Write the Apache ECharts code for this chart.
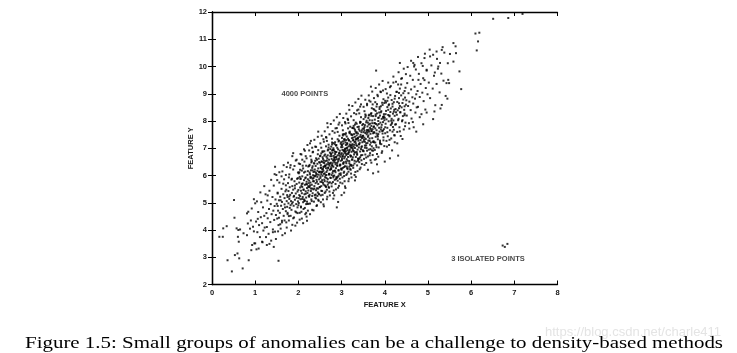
<!DOCTYPE html>
<html>
<head>
<meta charset="utf-8">
<script src="https://cdn.jsdelivr.net/npm/echarts@6/dist/echarts.min.js"></script>
<style>
  html, body { margin: 0; padding: 0; background: #fff; }
  #main { width: 737px; height: 353px; }
</style>
</head>
<body>
<div id="main"></div>
<script>
// points (feature x, feature y)
var clusterPoints = [
  [0.17,3.75],[0.25,3.75],[0.26,4.06],[0.34,4.14],[0.36,2.89],[0.46,2.48],[0.52,4.45],[0.51,5.10],[0.53,3.08],[0.59,3.14],
  [0.63,2.96],[0.71,2.59],[0.57,4.06],[0.61,4.00],[0.65,4.02],[0.60,3.75],[0.62,3.57],[0.73,3.88],[0.81,3.81],[0.85,2.89],
  [0.84,4.67],[0.92,4.79],[0.81,4.61],[0.83,4.24],[0.93,3.45],[0.91,3.26],[0.98,3.51],[0.88,4.05],[0.95,4.12],[0.97,3.95],
  [0.90,4.35],[1.03,3.29],[1.00,3.51],[1.16,3.57],[1.27,3.45],[1.43,3.38],[1.54,2.87],[1.00,4.98],[0.97,5.13],
  [1.02,4.31],[1.05,3.92],[1.07,4.66],[1.09,4.18],[1.11,3.74],[1.13,4.47],[1.14,5.02],[1.16,4.25],[1.18,4.83],[1.19,3.98],
  [1.21,4.52],[1.22,4.09],[1.24,5.31],[1.06,4.41],
  [1.26,4.62],[1.27,4.11],[1.28,5.08],[1.29,4.43],[1.31,3.86],[1.32,4.77],[1.33,5.44],[1.35,4.29],[1.36,4.95],[1.37,3.61],
  [1.38,4.58],[1.40,5.21],[1.41,4.02],[1.42,4.71],[1.43,5.63],[1.44,4.37],[1.45,4.88],[1.46,3.94],[1.47,5.12],[1.48,4.55],[1.49,6.02],
  [1.50,4.96],[1.51,4.42],[1.52,5.37],[1.53,4.71],[1.54,4.18],[1.55,5.09],[1.56,5.74],[1.57,4.63],[1.58,5.22],[1.59,4.05],
  [1.60,4.89],[1.61,5.51],[1.62,4.34],[1.62,5.03],[1.63,6.15],[1.64,4.77],[1.65,5.31],[1.66,4.52],[1.67,5.86],[1.68,4.94],
  [1.68,5.17],[1.69,3.88],[1.70,5.42],[1.71,4.69],[1.71,5.64],[1.72,4.28],[1.73,5.06],[1.73,6.31],[1.74,4.85],[1.74,5.28],[1.52,4.88],
  [1.46,6.32],[1.88,6.82],[2.27,7.18],[2.46,7.61],
  [1.75,5.21],[1.75,4.63],[1.76,5.72],[1.77,4.98],[1.77,5.43],[1.78,4.35],[1.79,5.14],[1.79,6.04],[1.80,4.81],[1.80,5.57],
  [1.81,5.29],[1.82,4.52],[1.82,6.38],[1.83,5.06],[1.84,5.85],[1.84,4.74],[1.85,5.36],[1.86,4.19],[1.86,5.61],[1.87,5.02],
  [1.88,5.48],[1.88,6.22],[1.89,4.89],[1.90,5.25],[1.90,4.46],[1.91,5.79],[1.92,5.11],[1.92,5.53],[1.93,4.68],[1.94,6.55],
  [1.94,5.34],[1.95,4.95],[1.96,5.69],[1.96,5.18],[1.97,4.27],[1.97,5.88],[1.98,5.41],[1.98,4.83],[1.99,6.11],[1.99,5.05],
  [1.78,5.93],[1.85,4.97],
  [2.00,5.47],[2.00,4.91],[2.01,6.08],[2.02,5.28],[2.02,5.74],[2.03,4.63],[2.04,5.56],[2.04,6.42],[2.05,5.13],[2.05,5.89],
  [2.06,4.86],[2.07,5.62],[2.07,6.77],[2.08,5.35],[2.08,4.42],[2.09,5.97],[2.10,5.21],[2.10,5.71],[2.11,5.02],[2.11,6.26],
  [2.12,5.49],[2.12,4.77],[2.13,5.83],[2.14,5.31],[2.14,6.51],[2.15,5.08],[2.15,5.66],[2.16,4.58],[2.16,6.14],[2.17,5.42],
  [2.17,5.93],[2.18,5.19],[2.18,4.95],[2.19,5.77],[2.19,6.63],[2.20,5.54],[2.20,5.04],[2.21,6.02],[2.21,5.36],[2.22,4.71],
  [2.22,5.86],[2.23,5.61],[2.23,6.33],[2.24,5.25],[2.24,5.72],[2.01,5.17],[2.06,5.44],[2.09,5.58],[2.13,5.12],[2.15,6.91],
  [2.18,5.68],[2.20,4.34],[2.23,5.45],[2.03,5.95],[2.08,6.18],
  [2.25,5.81],[2.25,5.22],[2.26,6.39],[2.26,5.58],[2.27,6.05],[2.27,4.97],[2.28,5.74],[2.28,6.71],[2.29,5.43],[2.29,6.19],
  [2.30,5.12],[2.30,5.93],[2.31,6.52],[2.31,5.66],[2.32,4.74],[2.32,6.28],[2.33,5.88],[2.33,5.35],[2.34,6.87],[2.34,6.01],
  [2.35,5.49],[2.35,6.13],[2.36,5.04],[2.36,5.79],[2.37,6.44],[2.37,5.61],[2.38,6.22],[2.38,5.28],[2.39,5.97],[2.39,7.06],
  [2.40,5.72],[2.40,6.35],[2.41,5.16],[2.41,6.09],[2.42,5.84],[2.42,4.88],[2.43,6.58],[2.43,5.53],[2.44,6.17],[2.44,5.95],
  [2.45,5.38],[2.45,6.78],[2.46,5.69],[2.46,6.26],[2.47,5.07],[2.47,6.03],[2.48,5.86],[2.48,6.49],[2.49,5.57],[2.49,6.12],
  [2.26,6.11],[2.28,5.96],[2.30,6.48],[2.32,5.52],[2.35,5.91],[2.37,5.98],[2.39,6.54],[2.41,5.46],[2.43,6.04],[2.44,5.25],
  [2.46,6.93],[2.48,5.31],[2.27,5.64],[2.33,6.34],[2.40,6.01],[2.47,6.62],
  [2.50,6.14],[2.50,5.58],[2.51,6.73],[2.51,5.91],[2.52,6.38],[2.52,5.27],[2.53,6.05],[2.53,7.02],[2.54,5.76],[2.54,6.51],
  [2.55,5.43],[2.55,6.22],[2.56,6.86],[2.56,5.99],[2.57,5.12],[2.57,6.61],[2.58,6.17],[2.58,5.67],[2.59,7.24],[2.59,6.33],
  [2.60,5.85],[2.60,6.46],[2.61,5.36],[2.61,6.08],[2.62,6.77],[2.62,5.94],[2.63,6.53],[2.63,5.61],[2.64,6.27],[2.64,7.41],
  [2.65,6.02],[2.65,6.69],[2.66,5.48],[2.66,6.41],[2.67,6.19],[2.67,5.22],[2.68,6.92],[2.68,5.87],[2.69,6.48],[2.69,6.29],
  [2.70,5.73],[2.70,7.13],[2.71,6.03],[2.71,6.58],[2.72,5.41],[2.72,6.36],[2.73,6.21],[2.73,6.84],[2.74,5.92],[2.74,6.44],
  [2.50,6.47],[2.52,6.28],[2.53,6.81],[2.55,5.83],[2.57,6.24],[2.58,6.31],[2.60,6.89],[2.61,5.79],[2.63,6.36],[2.64,5.58],
  [2.66,7.27],[2.68,5.66],[2.51,5.97],[2.56,6.67],[2.62,6.34],[2.69,6.95],[2.54,6.12],[2.59,6.55],[2.65,6.13],[2.70,6.41],
  [2.72,6.06],[2.74,6.71],[2.58,4.94],[2.67,6.63],[2.71,5.55],
  [2.75,6.47],[2.75,5.91],[2.76,7.06],[2.76,6.24],[2.77,6.71],[2.77,5.60],[2.78,6.38],[2.78,7.35],[2.79,6.09],[2.79,6.84],
  [2.80,5.76],[2.80,6.55],[2.81,7.19],[2.81,6.32],[2.82,5.45],[2.82,6.94],[2.83,6.50],[2.83,6.00],[2.84,7.57],[2.84,6.66],
  [2.85,6.18],[2.85,6.79],[2.86,5.69],[2.86,6.41],[2.87,7.10],[2.87,6.27],[2.88,6.86],[2.88,5.94],[2.89,6.60],[2.89,7.74],
  [2.90,6.35],[2.90,7.02],[2.91,5.81],[2.91,6.74],[2.92,6.52],[2.92,5.55],[2.93,7.25],[2.93,6.20],[2.94,6.81],[2.94,6.62],
  [2.95,6.06],[2.95,7.46],[2.96,6.36],[2.96,6.91],[2.97,5.74],[2.97,6.69],[2.98,6.54],[2.98,7.17],[2.99,6.25],[2.99,6.77],
  [2.75,6.80],[2.77,6.61],[2.78,7.14],[2.80,6.16],[2.82,6.57],[2.83,6.64],[2.85,7.22],[2.86,6.12],[2.88,6.69],[2.89,5.91],
  [2.91,7.60],[2.93,5.99],[2.76,6.30],[2.81,7.00],[2.87,6.67],[2.94,7.28],[2.79,6.45],[2.84,6.88],[2.90,6.46],[2.95,6.74],
  [2.97,6.39],[2.99,7.04],[2.83,5.27],[2.92,6.96],[2.96,5.88],[2.78,6.92],[2.86,6.47],[2.93,6.58],[2.98,6.02],[2.81,5.98],
  [3.00,6.82],[3.00,6.21],[3.01,7.38],[3.01,6.57],[3.02,7.04],[3.02,5.93],[3.03,6.71],[3.03,7.66],[3.04,6.43],[3.04,7.17],
  [3.05,6.10],[3.05,6.88],[3.06,7.52],[3.06,6.63],[3.07,5.79],[3.07,7.28],[3.08,6.83],[3.08,6.34],[3.09,7.91],[3.09,6.99],
  [3.10,6.51],[3.10,7.12],[3.11,6.02],[3.11,6.75],[3.12,7.43],[3.12,6.60],[3.13,7.19],[3.13,6.27],[3.14,6.93],[3.14,8.08],
  [3.15,6.68],[3.15,7.35],[3.16,6.14],[3.16,7.07],[3.17,6.85],[3.17,5.88],[3.18,7.58],[3.18,6.53],[3.19,7.14],[3.19,6.95],
  [3.20,6.39],[3.20,7.79],[3.21,6.69],[3.21,7.24],[3.22,6.07],[3.22,7.02],[3.23,6.87],[3.23,7.50],[3.24,6.58],[3.24,7.10],
  [3.00,7.13],[3.02,6.94],[3.03,7.47],[3.05,6.49],[3.07,6.90],[3.08,6.97],[3.10,7.55],[3.11,6.45],[3.13,7.02],[3.14,6.24],
  [3.16,7.93],[3.18,6.32],[3.01,6.63],[3.06,7.33],[3.12,7.00],[3.19,7.61],[3.04,6.78],[3.09,7.21],[3.15,6.79],[3.20,7.07],
  [3.22,6.72],[3.24,7.37],[3.08,5.60],[3.17,7.29],[3.21,6.21],[3.03,7.25],[3.11,6.80],[3.18,6.91],[3.23,6.35],[3.06,6.31],
  [3.25,7.15],[3.25,6.59],[3.26,7.74],[3.26,6.92],[3.27,7.39],[3.27,6.28],[3.28,7.06],[3.28,8.03],[3.29,6.77],[3.29,7.52],
  [3.30,6.44],[3.30,7.23],[3.31,7.87],[3.31,7.01],[3.32,6.13],[3.32,7.62],[3.33,7.18],[3.33,6.68],[3.34,8.25],[3.34,7.34],
  [3.35,6.86],[3.35,7.47],[3.36,6.37],[3.36,7.09],[3.37,7.78],[3.37,6.95],[3.38,7.54],[3.38,6.62],[3.39,7.28],[3.39,8.42],
  [3.40,7.03],[3.40,7.70],[3.41,6.49],[3.41,7.42],[3.42,7.20],[3.42,6.23],[3.43,7.93],[3.43,6.88],[3.44,7.49],[3.44,7.30],
  [3.45,6.74],[3.45,8.14],[3.46,7.04],[3.46,7.59],[3.47,6.42],[3.47,7.37],[3.48,7.22],[3.48,7.85],[3.49,6.93],[3.49,7.45],
  [3.25,7.48],[3.27,7.29],[3.28,7.82],[3.30,6.84],[3.32,7.25],[3.33,7.32],[3.35,7.90],[3.36,6.80],[3.38,7.37],[3.39,6.59],
  [3.41,8.28],[3.43,6.67],[3.26,6.98],[3.31,7.68],[3.37,7.35],[3.44,7.96],[3.29,7.13],[3.34,7.56],[3.40,7.14],[3.45,7.42],
  [3.47,7.07],[3.49,7.72],[3.33,5.95],[3.42,7.64],[3.46,6.56],
  [3.50,7.46],[3.50,6.90],[3.51,8.07],[3.51,7.25],[3.52,7.72],[3.52,6.61],[3.53,7.39],[3.53,8.36],[3.54,7.10],[3.54,7.85],
  [3.55,6.77],[3.55,7.56],[3.56,8.20],[3.56,7.34],[3.57,6.46],[3.57,7.95],[3.58,7.51],[3.58,7.01],[3.59,8.58],[3.59,7.67],
  [3.60,7.19],[3.60,7.80],[3.61,6.70],[3.61,7.42],[3.62,8.11],[3.62,7.28],[3.63,7.87],[3.63,6.95],[3.64,7.61],[3.64,8.75],
  [3.65,7.36],[3.65,8.03],[3.66,6.82],[3.66,7.75],[3.67,7.53],[3.67,6.56],[3.68,8.26],[3.68,7.21],[3.69,7.82],[3.69,7.63],
  [3.70,7.07],[3.70,8.47],[3.71,7.37],[3.71,7.92],[3.72,6.75],[3.72,7.70],[3.73,7.55],[3.73,8.18],[3.74,7.26],[3.74,7.78],
  [3.51,7.59],[3.53,7.78],[3.55,8.14],[3.57,7.18],[3.60,7.57],[3.62,7.64],[3.64,8.23],[3.66,7.13],[3.68,7.70],[3.70,6.92],
  [3.72,8.61],[3.74,7.00],[3.52,7.31],[3.58,8.01],[3.63,7.68],[3.69,8.29],
  [3.75,7.80],[3.75,7.22],[3.76,8.41],[3.76,7.57],[3.77,8.05],[3.77,6.94],[3.78,7.73],[3.78,8.69],[3.79,7.42],[3.79,8.18],
  [3.80,7.11],[3.80,7.89],[3.81,8.53],[3.81,7.66],[3.82,6.79],[3.82,8.28],[3.83,7.84],[3.84,7.33],[3.84,8.91],[3.85,8.00],
  [3.85,7.52],[3.86,8.13],[3.86,7.03],[3.87,7.75],[3.88,8.44],[3.88,7.61],[3.89,8.20],[3.89,7.28],[3.90,7.94],[3.90,9.08],
  [3.91,7.69],[3.92,8.36],[3.92,7.15],[3.93,8.08],[3.93,7.86],[3.94,6.89],[3.95,8.59],[3.95,7.54],[3.96,8.15],[3.96,7.96],
  [3.97,7.40],[3.97,8.80],[3.98,7.70],[3.98,8.25],[3.99,7.08],[3.99,8.03],[3.76,7.92],[3.79,8.37],[3.83,7.47],[3.87,8.31],
  [3.91,8.54],[3.94,7.63],[3.97,8.11],[3.80,6.60],[3.99,8.66],
  [4.00,8.12],[4.01,7.55],[4.01,8.74],[4.02,7.90],[4.03,8.37],[4.04,7.27],[4.04,8.06],[4.05,9.01],[4.06,7.75],[4.06,8.51],
  [4.07,7.44],[4.08,8.22],[4.08,8.86],[4.09,7.99],[4.10,7.12],[4.10,8.61],[4.11,8.17],[4.12,7.66],[4.12,9.24],[4.13,8.33],
  [4.14,7.85],[4.14,8.46],[4.15,7.36],[4.16,8.08],[4.16,8.77],[4.17,7.94],[4.18,8.53],[4.18,7.61],[4.19,8.27],[4.20,9.41],
  [4.20,8.02],[4.21,8.69],[4.22,7.48],[4.22,8.41],[4.23,8.19],[4.23,7.22],[4.24,8.92],[4.24,7.87],[4.02,8.25],[4.09,8.58],
  [4.15,8.01],[4.21,8.34],
  [4.25,8.44],[4.26,7.88],[4.27,9.07],[4.28,8.23],[4.29,8.70],[4.29,7.60],[4.30,8.39],[4.31,9.34],[4.32,8.08],[4.33,8.84],
  [4.34,7.77],[4.35,8.55],[4.35,9.19],[4.36,8.32],[4.37,7.45],[4.38,8.94],[4.39,8.50],[4.40,7.99],[4.40,9.57],[4.41,8.66],
  [4.42,8.18],[4.43,8.79],[4.44,7.69],[4.45,8.41],[4.46,9.10],[4.46,8.27],[4.47,8.86],[4.48,7.94],[4.49,8.60],[4.49,9.72],[4.33,8.47],
  [4.50,8.76],[4.51,8.20],[4.52,9.39],[4.54,8.55],[4.55,9.02],[4.56,7.92],[4.57,8.71],[4.59,9.66],[4.60,8.40],[4.61,9.16],
  [4.62,8.09],[4.64,8.87],[4.65,9.51],[4.66,8.64],[4.67,7.77],[4.69,9.26],[4.70,8.82],[4.71,8.31],[4.72,9.89],[4.73,8.98],[4.74,8.50],
  [4.76,9.10],[4.77,8.52],[4.79,9.73],[4.81,8.88],[4.83,9.36],[4.85,8.25],[4.87,9.04],[4.88,10.02],[4.90,8.73],[4.92,9.50],
  [4.94,8.42],[4.95,9.21],[4.97,9.85],[4.99,8.98],
  [5.02,9.41],[5.05,8.84],[5.08,10.04],[5.11,9.19],[5.14,9.66],[5.17,8.58],[5.20,9.36],[5.23,9.92],
  [5.27,9.05],[5.31,9.74],[5.36,9.48],[5.41,8.92],[5.46,10.12],
  [6.51,11.75],[6.86,11.78],[7.19,11.93],[6.10,11.21],[6.19,11.24],[6.16,10.92],[6.13,10.59],[5.59,10.86],[5.64,10.74],[5.65,10.49],
  [5.51,10.46],[5.32,10.61],[5.34,10.71],[5.20,10.55],[5.59,10.18],[5.73,9.82],[5.77,9.17],[5.32,8.59],[5.15,8.35],[5.05,10.37],
  [5.12,10.43],[4.92,10.31],[4.66,10.13],[4.68,10.00],[4.35,10.13],[3.80,9.85],[5.47,9.51],[5.43,9.39],[5.49,9.39],[5.28,10.13],
  [5.24,10.00],[5.16,9.78],[4.97,9.88],[4.78,9.51],[4.89,9.57],
  [4.31,6.73],[4.12,6.63],[4.00,6.51],[3.85,6.14],[3.73,6.08],[2.89,4.83],[2.92,5.03],[3.00,5.28],[3.06,5.37]
];
// wider edges of the cloud
var clusterFringe = [
  [1.04,5.05],[1.08,3.32],[1.12,5.38],[1.17,3.55],[1.21,5.61],[1.25,3.74],[1.29,5.27],[1.33,3.49],[1.37,5.84],[1.41,3.92],[1.45,6.05],[1.48,3.67],
  [1.51,5.83],[1.53,3.95],[1.56,6.12],[1.58,4.21],[1.61,5.97],[1.63,3.81],[1.66,6.38],[1.68,4.35],[1.71,6.02],[1.73,4.09],
  [1.76,6.47],[1.78,4.51],[1.81,6.29],[1.83,3.98],[1.86,6.71],[1.88,4.43],[1.91,6.35],[1.93,4.16],[1.96,6.58],[1.98,4.62],
  [2.01,6.44],[2.03,4.38],[2.05,6.79],[2.07,4.67],[2.09,6.58],[2.11,4.25],[2.13,6.96],[2.15,4.81],[2.17,6.71],[2.19,4.49],
  [2.21,7.12],[2.23,4.96],[2.25,6.92],[2.27,4.58],[2.29,7.27],[2.31,5.06],[2.33,6.85],[2.35,4.72],[2.37,7.31],[2.39,5.19],
  [2.41,7.05],[2.43,4.91],[2.45,7.42],[2.47,5.33],[2.04,6.21],[2.18,4.63],[2.32,7.02],[2.46,5.11],
  [2.51,7.18],[2.52,5.02],[2.54,7.46],[2.56,5.29],[2.58,7.33],[2.59,4.87],[2.61,7.62],[2.63,5.41],[2.65,7.39],[2.66,5.13],
  [2.68,7.77],[2.70,5.58],[2.72,7.51],[2.73,5.27],[2.75,7.89],[2.77,5.71],[2.79,7.63],[2.80,5.36],[2.82,8.02],[2.84,5.84],
  [2.86,7.73],[2.87,5.49],[2.89,8.14],[2.91,5.95],[2.93,7.87],[2.94,5.62],[2.96,8.26],[2.98,6.08],[2.53,5.61],[2.67,7.92],[2.81,5.15],[2.95,7.94],
  [3.01,7.84],[3.02,5.71],[3.04,8.11],[3.06,5.98],[3.08,7.96],[3.09,5.54],[3.11,8.27],[3.13,6.07],[3.15,8.04],[3.16,5.79],
  [3.18,8.41],[3.20,6.24],[3.22,8.17],[3.23,5.93],[3.25,8.55],[3.27,6.37],[3.29,8.29],[3.30,6.02],[3.32,8.68],[3.34,6.51],
  [3.36,8.39],[3.37,6.16],[3.39,8.81],[3.41,6.62],[3.43,8.53],[3.44,6.29],[3.46,8.93],[3.48,6.75],[3.03,6.28],[3.17,8.58],[3.31,5.82],[3.45,8.61],
  [3.51,8.52],[3.53,6.39],[3.55,8.78],[3.57,6.66],[3.59,8.63],[3.61,6.21],[3.63,8.94],[3.65,6.74],[3.67,8.71],[3.69,6.47],
  [3.71,9.08],[3.73,6.91],[3.75,8.84],[3.77,6.58],[3.79,9.21],[3.81,7.04],[3.83,8.96],[3.85,6.69],[3.87,9.34],[3.89,7.17],
  [3.91,9.06],[3.93,6.83],[3.95,9.47],[3.97,7.29],[3.54,7.02],[3.68,9.26],[3.82,6.41],[3.96,9.12],
  [4.02,9.17],[4.05,7.06],[4.08,9.41],[4.11,7.31],[4.14,9.28],[4.17,6.92],[4.20,9.63],[4.23,7.47],[4.26,9.44],[4.29,7.18],
  [4.32,9.79],[4.35,7.62],[4.38,9.55],[4.41,7.34],[4.44,9.92],[4.47,7.81],[4.06,8.74],[4.19,7.78],[4.33,9.03],[4.46,8.21],
  [4.53,9.98],[4.57,7.72],[4.61,10.21],[4.65,7.96],[4.69,10.06],[4.73,7.61],[4.77,10.35],[4.81,8.14],[4.85,10.12],[4.89,7.88],
  [4.93,10.47],[4.97,8.31],[5.04,10.62],[5.12,8.07],[5.21,10.28],[5.29,8.46],[5.38,10.51],[5.45,8.82]
];
// extra points filling the dense middle of the cloud
var clusterCore = [
  [1.52,5.34],[1.55,4.45],[1.59,5.09],[1.62,4.28],[1.65,5.70],[1.69,4.83],[1.72,5.48],[1.75,4.58],[1.79,5.23],[1.82,4.91],
  [1.85,5.88],[1.89,5.22],[1.92,5.63],[1.95,4.65],[1.99,5.90],
  [2.01,4.99],[2.02,6.12],[2.04,5.24],[2.05,5.87],[2.06,4.83],[2.08,5.69],[2.09,5.14],[2.10,6.36],[2.12,5.47],[2.13,6.11],
  [2.14,5.06],[2.16,5.90],[2.17,5.33],[2.18,6.36],[2.20,5.68],[2.21,4.96],[2.22,6.16],[2.24,5.57],[2.25,6.35],[2.26,5.29],
  [2.28,5.91],[2.29,5.52],[2.30,6.58],[2.32,5.25],[2.33,6.19],[2.34,5.79],[2.36,6.45],[2.37,5.52],[2.38,6.14],[2.40,5.30],
  [2.41,6.63],[2.43,5.77],[2.44,6.43],[2.46,5.52],[2.48,6.13],
  [2.50,6.71],[2.51,5.77],[2.52,6.29],[2.53,5.44],[2.54,6.51],[2.55,6.13],[2.56,6.89],[2.57,5.73],[2.58,6.48],[2.59,6.06],
  [2.60,6.73],[2.61,5.64],[2.62,6.37],[2.63,6.01],[2.64,7.07],[2.65,5.91],[2.66,6.55],[2.67,5.78],[2.68,6.74],[2.69,6.27],
  [2.70,7.03],[2.71,6.06],[2.72,6.44],[2.73,5.75],[2.74,6.97],[2.75,6.23],[2.76,6.78],[2.77,6.02],[2.78,7.21],[2.79,6.36],
  [2.80,6.94],[2.81,5.93],[2.82,6.72],[2.83,6.17],[2.84,7.15],[2.85,6.57],[2.86,6.86],[2.87,5.87],[2.88,7.12],[2.90,6.38],
  [2.91,7.33],[2.93,6.18],[2.95,6.83],[2.97,6.40],[2.99,7.22],
  [3.00,6.25],[3.01,7.11],[3.02,6.70],[3.03,7.51],[3.04,6.45],[3.05,6.93],[3.06,6.14],[3.07,7.33],[3.08,6.69],[3.09,7.50],
  [3.10,6.89],[3.11,7.30],[3.12,6.33],[3.13,7.15],[3.14,6.54],[3.15,7.73],[3.16,6.84],[3.17,7.29],[3.18,6.45],[3.19,7.55],
  [3.20,6.74],[3.21,7.11],[3.22,6.39],[3.23,7.51],[3.24,7.03],[3.25,7.75],[3.26,6.67],[3.27,7.30],[3.28,6.90],[3.29,7.73],
  [3.30,6.54],[3.31,7.42],[3.32,6.85],[3.33,7.94],[3.34,7.11],[3.35,7.59],[3.36,6.76],[3.37,7.37],[3.38,6.54],[3.40,7.79],
  [3.41,7.15],[3.43,7.97],[3.45,6.97],[3.47,7.66],[3.49,7.39],
  [3.50,7.89],[3.51,6.89],[3.53,7.65],[3.54,7.24],[3.55,8.24],[3.57,7.10],[3.58,7.61],[3.59,6.91],[3.61,7.94],[3.62,7.47],
  [3.63,8.20],[3.65,7.27],[3.66,7.90],[3.67,6.97],[3.69,8.19],[3.70,7.63],[3.71,8.02],[3.73,7.23],[3.74,8.44],[3.75,7.59],
  [3.77,7.92],[3.78,7.21],[3.79,8.24],[3.81,7.54],[3.82,8.62],[3.84,7.43],[3.85,8.11],[3.86,7.89],[3.88,8.51],[3.89,7.22],
  [3.91,8.32],[3.92,7.77],[3.94,8.67],[3.96,7.65],[3.98,8.17],
  [4.01,7.77],[4.03,8.68],[4.06,7.59],[4.08,8.41],[4.11,8.20],[4.13,8.95],[4.16,7.90],[4.18,8.63],[4.21,7.68],[4.23,8.82],
  [4.26,8.32],[4.28,9.07],[4.31,8.03],[4.33,8.65],[4.36,8.32],[4.38,9.34],[4.41,8.03],[4.43,9.02],[4.46,8.54],[4.48,9.22]
];
var isolatedPoints = [[6.73,3.43],[6.78,3.38],[6.84,3.49]];

var annotationText = ['4000 POINTS', '3 ISOLATED POINTS'];
var annotationX = [2.15, 6.39];
var annotationY = [9.0, 2.92];

var captionText = 'Figure 1.5: Small groups of anomalies can be a challenge to density-based methods';
var watermarkText = 'https://blog.csdn.net/charle411';

var chart = echarts.init(document.getElementById('main'));

var tickFont = { fontFamily: 'Liberation Sans', fontSize: 7.5, fontWeight: 'bold', color: '#151515' };

// caption is stretched to the width it takes in the picture
var ctx = document.createElement('canvas').getContext('2d');
ctx.font = '16px "Liberation Serif"';
var captionScale = 698 / ctx.measureText(captionText).width;

var boxAxis = {
  min: 0, max: 8, interval: 1,
  axisLine: { show: true, lineStyle: { color: '#000', width: 1.3 } },
  axisTick: { show: true, inside: true, length: 4, lineStyle: { color: '#000', width: 1 } },
  splitLine: { show: false }
};

chart.setOption({
  animation: false,
  grid: { left: 212, top: 12, width: 345.5, height: 272.5 },
  xAxis: [
    Object.assign({}, boxAxis, {
      type: 'value', position: 'bottom',
      axisLabel: Object.assign({ margin: 4 }, tickFont),
      name: 'FEATURE X', nameLocation: 'middle', nameGap: 8,
      nameTextStyle: Object.assign({}, tickFont)
    }),
    Object.assign({}, boxAxis, { type: 'value', position: 'top', axisLabel: { show: false } })
  ],
  yAxis: [
    Object.assign({}, boxAxis, {
      type: 'value', min: 2, max: 12, position: 'left',
      axisLabel: Object.assign({ margin: 5 }, tickFont),
      name: 'FEATURE Y', nameLocation: 'middle', nameGap: 8, nameRotate: 90,
      nameTextStyle: Object.assign({}, tickFont)
    }),
    Object.assign({}, boxAxis, { type: 'value', min: 2, max: 12, position: 'right', axisLabel: { show: false } })
  ],
  series: [
    {
      type: 'scatter',
      symbol: 'rect',
      symbolSize: 2,
      itemStyle: { color: '#000' },
      data: clusterPoints.concat(clusterFringe, clusterCore, isolatedPoints)
    },
    {
      type: 'scatter',
      symbolSize: 0,
      silent: true,
      label: {
        show: true, position: 'inside',
        formatter: function (p) { return p.data[2]; },
        fontFamily: 'Liberation Sans', fontSize: 7.5, fontWeight: 'bold', color: '#151515'
      },
      data: annotationText.map(function (t, i) { return [annotationX[i], annotationY[i], t]; })
    }
  ],
  graphic: [
    {
      type: 'text', x: 545, y: 326, silent: true,
      style: { text: watermarkText, font: '13px "Liberation Sans"', fill: '#e4e4e4' }
    },
    {
      type: 'text', x: 25, y: 336, scaleX: captionScale, silent: true,
      style: { text: captionText, font: '16px "Liberation Serif"', fill: '#000', verticalAlign: 'top' }
    }
  ]
});
</script>
</body>
</html>
